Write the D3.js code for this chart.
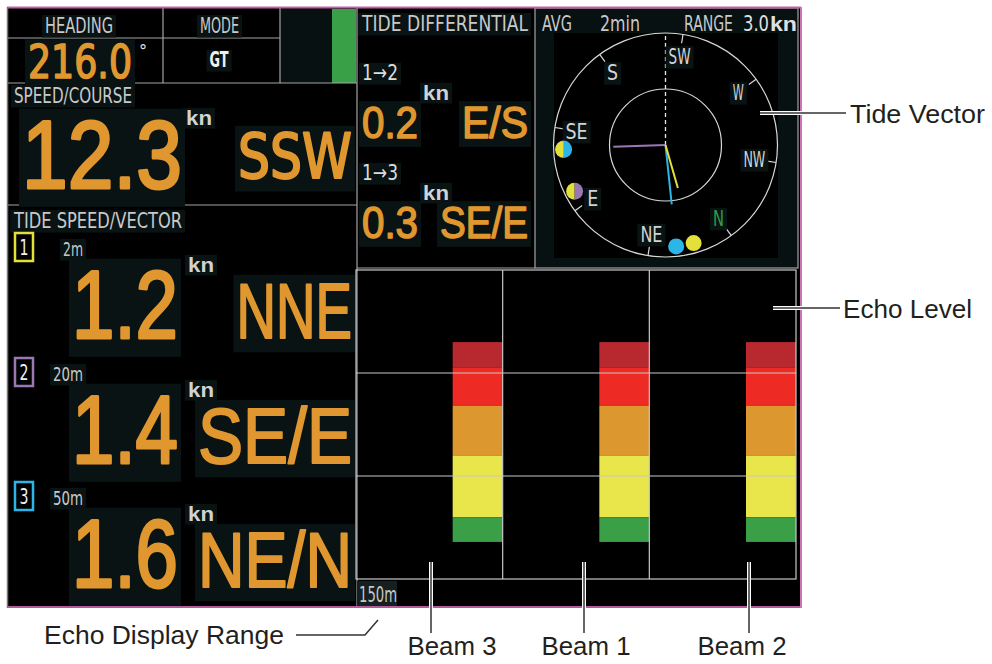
<!DOCTYPE html>
<html lang="en">
<head>
<meta charset="UTF-8">
<title>Tide display</title>
<script src="https://d3js.org/d3.v7.min.js"></script>
<style>
  body { margin: 0; background: #fff; }
  svg { display: block; }
</style>
</head>
<body>
<svg id="chart" width="992" height="664"></svg>
<script>
// ---- data ----
var heading = 216.0;
var mode = 'GT';
var shipSpeed = 12.3;
var shipCourse = 'SSW';

var layerIds = ['1', '2', '3'];
var layerDepths = ['2m', '20m', '50m'];
var layerSpeeds = [1.2, 1.4, 1.6];
var layerDirs = ['NNE', 'SE/E', 'NE/N'];
var layerBearings = [20, 124, 30];   // deg true
var layerColors = ['#e4e03a', '#9a78b6', '#2cb6e8'];

var diffLabels = ['1\u21922', '1\u21923'];
var diffSpeeds = [0.2, 0.3];
var diffDirs = ['E/S', 'SE/E'];
var diffBearings = [99, 123.5];
var diffLayers = [[0, 1], [0, 2]];

var compassNames = ['N', 'NE', 'E', 'SE', 'S', 'SW', 'W', 'NW'];
var compassDegs = [0, 45, 90, 135, 180, 225, 270, 315];
var avgTime = '2min';
var rangeKn = 3.0;

var beams = ['Beam 3', 'Beam 1', 'Beam 2'];
var echoRange = 150;                      // m
var echoGrid = [50, 100];
var echoBreaks = [35, 47.5, 66, 90, 120, 132];   // m, segment edges
var echoColors = ['#b8292f', '#ee2a25', '#dc982f', '#e8e64a', '#3a9f47'];

// ---- drawing ----
var svg = d3.select('#chart');
var ORANGE = '#e0972f', GREY = '#c9c9c9', LINE = '#a4a4a4', BOXBG = '#091313';
var NARROW = "'Liberation Sans Narrow', 'DejaVu Sans Condensed', 'Liberation Sans', sans-serif";
var SANS = "'Liberation Sans', Arial, sans-serif";

svg.append('rect').attr('width', 992).attr('height', 664).attr('fill', '#fff');
svg.append('rect').attr('x', 7).attr('y', 8).attr('width', 794).attr('height', 599).attr('fill', '#000');

function txt(g, x, y, s, o) {
    o = o || {};
    var t = g.append('text').attr('x', x).attr('y', y).text(s)
        .attr('font-family', o.family || NARROW)
        .attr('font-size', o.size || 22)
        .attr('font-weight', o.weight || 'normal')
        .attr('fill', o.fill || GREY)
        .attr('text-anchor', o.anchor || 'start');
    if (o.w) t.attr('textLength', o.w).attr('lengthAdjust', 'spacingAndGlyphs');
    if (o.thick) t.attr('stroke', o.fill).attr('stroke-width', o.thick).attr('stroke-linejoin', 'round');
    if (o.bg) {
        var b = t.node().getBBox();
        g.insert('rect', function () { return t.node(); })
            .attr('x', b.x - 3).attr('y', b.y + b.height * 0.08)
            .attr('width', b.width + 6).attr('height', b.height * 0.9)
            .attr('fill', BOXBG);
    }
    return t;
}
function ln(g, x1, y1, x2, y2, c, w) {
    return g.append('line').attr('x1', x1).attr('y1', y1).attr('x2', x2).attr('y2', y2)
        .attr('stroke', c || LINE).attr('stroke-width', w || 1.2);
}

var left = svg.append('g');
// heading / mode row
left.append('rect').attr('x', 280).attr('y', 9).attr('width', 52).attr('height', 74).attr('fill', '#081111');
left.append('rect').attr('x', 332).attr('y', 9).attr('width', 24).attr('height', 74).attr('fill', '#3aa048');
ln(left, 7, 38, 280, 38);
ln(left, 7, 83, 357, 83);
ln(left, 163, 8, 163, 83);
ln(left, 280, 8, 280, 83);
ln(left, 7, 205, 357, 205);
ln(left, 357, 8, 357, 607);
txt(left, 45, 33, 'HEADING', {w: 68, bg: true});
txt(left, 200, 33, 'MODE', {w: 39, bg: true});
txt(left, 28, 78, heading.toFixed(1), {size: 46, fill: ORANGE, w: 104, thick: 1.5, bg: true});
txt(left, 139, 57, '\u00b0', {size: 18, fill: '#e6e6e6'});
txt(left, 219, 67, mode, {size: 21, weight: 'bold', fill: '#f0f0f0', anchor: 'middle', w: 19, bg: true});

// speed / course
txt(left, 14, 103, 'SPEED/COURSE', {w: 118, bg: true});
txt(left, 186, 125, 'kn', {family: SANS, size: 21, weight: 'bold', fill: '#d2d2d2', w: 26, bg: true});
txt(left, 22, 188, shipSpeed.toFixed(1), {family: SANS, size: 97, fill: ORANGE, w: 160, thick: 3, bg: true});
txt(left, 352, 178, shipCourse, {size: 62, fill: ORANGE, anchor: 'end', w: 38 * shipCourse.length, thick: 2, bg: true});

// tide speed / vector per layer
txt(left, 14, 228, 'TIDE SPEED/VECTOR', {w: 168, bg: true});
var layerTop = [232, 357, 481];
layerIds.forEach(function (id, i) {
    var y0 = layerTop[i];
    left.append('rect').attr('x', 15).attr('y', y0 + 1).attr('width', 18).attr('height', 28)
        .attr('fill', '#000').attr('stroke', layerColors[i]).attr('stroke-width', 2.5);
    txt(left, 24, y0 + 23, id, {size: 21, fill: '#f0f0f0', anchor: 'middle', w: 9});
    txt(left, 83, y0 + 24, layerDepths[i], {size: 20, anchor: 'end', w: 10 * layerDepths[i].length, bg: true});
    txt(left, 188, y0 + 40, 'kn', {family: SANS, size: 21, weight: 'bold', fill: '#d2d2d2', w: 26, bg: true});
    txt(left, 72, y0 + 106, layerSpeeds[i].toFixed(1), {family: SANS, size: 97, fill: ORANGE, w: 106, thick: 3, bg: true});
    txt(left, 352, y0 + 106, layerDirs[i], {family: SANS, size: 77, fill: ORANGE, anchor: 'end',
        w: 38.5 * layerDirs[i].length, thick: 2, bg: true});
});

// ---- tide differential ----
var diff = svg.append('g');
ln(diff, 357, 268, 535, 268);
txt(diff, 362, 31, 'TIDE DIFFERENTIAL', {w: 166, bg: true});
var diffTop = [63, 163];
diffLabels.forEach(function (l, i) {
    var y0 = diffTop[i];
    txt(diff, 362, y0 + 17, l, {size: 21, fill: '#dcdcdc', w: 36, bg: true});
    txt(diff, 423, y0 + 37, 'kn', {family: SANS, size: 21, weight: 'bold', fill: '#d2d2d2', w: 26, bg: true});
    txt(diff, 362, y0 + 75, diffSpeeds[i].toFixed(1), {family: SANS, size: 45, fill: ORANGE, w: 56, thick: 1.5, bg: true});
    txt(diff, 528, y0 + 75, diffDirs[i], {family: SANS, size: 45, fill: ORANGE, anchor: 'end',
        w: 22 * diffDirs[i].length, thick: 1.5, bg: true});
});

// ---- tide vector plot ----
var pol = svg.append('g');
pol.append('rect').attr('x', 535).attr('y', 8).attr('width', 263).attr('height', 260).attr('fill', '#071111');
pol.append('rect').attr('x', 554).attr('y', 33).attr('width', 224).attr('height', 225).attr('fill', '#000');
pol.append('rect').attr('x', 535).attr('y', 8).attr('width', 263).attr('height', 260)
    .attr('fill', 'none').attr('stroke', LINE).attr('stroke-width', 1.2);
txt(pol, 542, 31, 'AVG', {w: 30});
txt(pol, 600, 31, avgTime, {w: 40});
txt(pol, 684, 31, 'RANGE', {w: 49});
txt(pol, 743, 31, rangeKn.toFixed(1), {w: 26, fill: '#e0e0e0'});
txt(pol, 770, 31, 'kn', {family: SANS, size: 21, weight: 'bold', fill: '#e0e0e0', w: 27});

var cx = 665.5, cy = 145;
var r = d3.scaleLinear().domain([0, rangeKn]).range([0, 112]);
function pt(rad, bearing) {
    var a = (bearing - heading) * Math.PI / 180;
    return [cx + rad * Math.sin(a), cy - rad * Math.cos(a)];
}
pol.selectAll('circle.ring').data([rangeKn, rangeKn / 2]).enter().append('circle')
    .attr('class', 'ring').attr('cx', cx).attr('cy', cy).attr('r', function (d) { return r(d); })
    .attr('fill', 'none').attr('stroke', '#d8d8d8').attr('stroke-width', 1.2);
ln(pol, cx, cy, cx, cy - r(rangeKn), '#e8e8e8', 1.3).attr('stroke-dasharray', '4,3');

compassDegs.forEach(function (d, i) {
    var p1 = pt(r(rangeKn), d), p2 = pt(r(rangeKn) - 9, d), pl = pt(90, d);
    ln(pol, p1[0], p1[1], p2[0], p2[1], '#d8d8d8', 1.2);
    txt(pol, pl[0], pl[1] + 8, compassNames[i], {size: 22, anchor: 'middle',
        fill: compassNames[i] === 'N' ? '#2ea043' : '#d4d4d4', w: 11 * compassNames[i].length, bg: true});
});

// layer dots on ring and vectors
layerIds.forEach(function (id, i) {
    var p = pt(102, layerBearings[i]);
    pol.append('circle').attr('cx', p[0]).attr('cy', p[1]).attr('r', 8).attr('fill', layerColors[i]);
});
var arc = d3.arc().innerRadius(0).outerRadius(8.5);
diffBearings.forEach(function (b, i) {
    var p = pt(102, b);
    var g = pol.append('g').attr('transform', 'translate(' + p[0] + ',' + p[1] + ')');
    g.append('path').attr('d', arc({startAngle: Math.PI, endAngle: 2 * Math.PI})).attr('fill', layerColors[diffLayers[i][0]]);
    g.append('path').attr('d', arc({startAngle: 0, endAngle: Math.PI})).attr('fill', layerColors[diffLayers[i][1]]);
});
[1, 2, 0].forEach(function (i) {
    var p = pt(r(layerSpeeds[i]), layerBearings[i]);
    ln(pol, cx, cy, p[0], p[1], layerColors[i], 2);
});

// ---- echo level ----
var echo = svg.append('g');
var y = d3.scaleLinear().domain([0, echoRange]).range([270, 579]);
var x = d3.scaleBand().domain(beams).range([356, 796]);
var segs = d3.range(echoColors.length).map(function (k) {
    return {top: echoBreaks[k], bot: echoBreaks[k + 1], c: echoColors[k]};
});
beams.forEach(function (b) {
    echo.selectAll(null).data(segs).enter().append('rect')
        .attr('x', x(b) + x.bandwidth() - 50).attr('width', 50)
        .attr('y', function (d) { return y(d.top); })
        .attr('height', function (d) { return y(d.bot) - y(d.top); })
        .attr('fill', function (d) { return d.c; });
});
echo.selectAll('line.grid').data(echoGrid).enter().append('line')
    .attr('x1', 356).attr('x2', 796)
    .attr('y1', function (d) { return y(d); }).attr('y2', function (d) { return y(d); })
    .attr('stroke', '#c8c8c8').attr('stroke-width', 1.2);
beams.slice(1).forEach(function (b) { ln(echo, x(b), y(0), x(b), y(echoRange), '#c8c8c8'); });
echo.append('rect').attr('x', 356).attr('y', y(0)).attr('width', 440).attr('height', y(echoRange) - y(0))
    .attr('fill', 'none').attr('stroke', '#c8c8c8').attr('stroke-width', 1.2);
echo.append('rect').attr('x', 357).attr('y', 581).attr('width', 40).attr('height', 25).attr('fill', '#152020');
txt(echo, 359, 602, echoRange + 'm', {size: 22, w: 38});

// outer frame
ln(svg, 7, 7.5, 801, 7.5, '#c062a6', 2);
ln(svg, 7, 607, 801, 607, '#b45a9c', 2);
ln(svg, 801, 7, 801, 608, '#d070b8', 2);
ln(svg, 7.5, 7, 7.5, 608, '#777', 1.5);

// ---- callouts ----
var ann = svg.append('g');
function callout(pts) {
    var l = d3.line();
    ann.append('path').attr('d', l(pts)).attr('fill', 'none').attr('stroke', '#fff').attr('stroke-width', 4);
    ann.append('path').attr('d', l(pts)).attr('fill', 'none').attr('stroke', '#333').attr('stroke-width', 1.5);
}
callout([[760, 113], [846, 113]]);
callout([[773, 308], [840, 308]]);
callout([[296, 635], [365, 635], [378, 620]]);
var beamLineX = [431, 584, 749];
var beamTextX = [452, 586, 742];
beams.forEach(function (b, i) { callout([[beamLineX[i], 562], [beamLineX[i], 633]]); });

function note(xp, yp, s, anchor, w) {
    var t = ann.append('text').attr('x', xp).attr('y', yp).text(s)
        .attr('font-family', SANS).attr('font-size', 26).attr('fill', '#231f20')
        .attr('text-anchor', anchor || 'start');
    if (w) t.attr('textLength', w).attr('lengthAdjust', 'spacingAndGlyphs');
}
note(850, 123, 'Tide Vector', 'start', 135);
note(843, 318, 'Echo Level', 'start', 129);
note(44, 644, 'Echo Display Range', 'start', 240);
beams.forEach(function (b, i) { note(beamTextX[i], 655, b, 'middle', 89); });
</script>
</body>
</html>
